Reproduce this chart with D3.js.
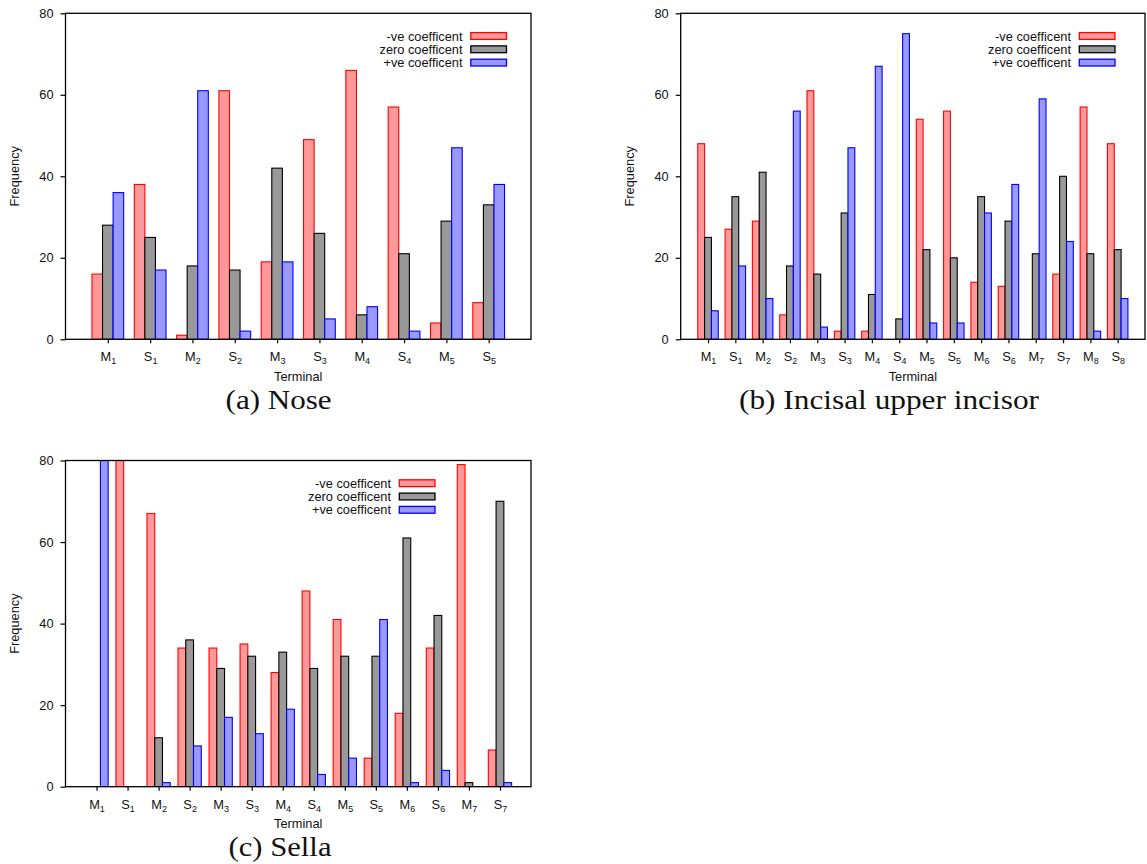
<!DOCTYPE html>
<html>
<head>
<meta charset="utf-8">
<script src="https://cdn.jsdelivr.net/npm/d3@7"></script>
<style>
  html, body { margin: 0; padding: 0; background: #fff; }
  svg { display: block; }
  text { font-family: "Liberation Sans", Arial, sans-serif; fill: #111; }
  .caption { font-family: "Liberation Serif", "Times New Roman", serif; }
</style>
</head>
<body>
<svg id="fig" width="1147" height="864"></svg>
<script>
// Series names (legend order) and y-axis ticks shared by all panels
const seriesNames = ["-ve coefficent", "zero coefficent", "+ve coefficent"];
const yTicks = [0, 20, 40, 60, 80];

// (a) Nose
const noseTerminals = ["M1", "S1", "M2", "S2", "M3", "S3", "M4", "S4", "M5", "S5"];
const noseNegative = [16, 38, 1, 61, 19, 49, 66, 57, 4, 9];
const noseZero     = [28, 25, 18, 17, 42, 26, 6, 21, 29, 33];
const nosePositive = [36, 17, 61, 2, 19, 5, 8, 2, 47, 38];

// (b) Incisal upper incisor
const incisorTerminals = ["M1", "S1", "M2", "S2", "M3", "S3", "M4", "S4",
                          "M5", "S5", "M6", "S6", "M7", "S7", "M8", "S8"];
const incisorNegative = [48, 27, 29, 6, 61, 2, 2, 0, 54, 56, 14, 13, 0, 16, 57, 48];
const incisorZero     = [25, 35, 41, 18, 16, 31, 11, 5, 22, 20, 35, 29, 21, 40, 21, 22];
const incisorPositive = [7, 18, 10, 56, 3, 47, 67, 75, 4, 4, 31, 38, 59, 24, 2, 10];

// (c) Sella
const sellaTerminals = ["M1", "S1", "M2", "S2", "M3", "S3", "M4", "S4",
                        "M5", "S5", "M6", "S6", "M7", "S7"];
const sellaNegative = [0, 80, 67, 34, 34, 35, 28, 48, 41, 7, 18, 34, 79, 9];
const sellaZero     = [0, 0, 12, 36, 29, 32, 33, 29, 32, 32, 61, 42, 1, 70];
const sellaPositive = [80, 0, 1, 10, 17, 13, 19, 3, 7, 41, 1, 4, 0, 1];

const seriesStyle = [
  { fill: "#ff9999", stroke: "#ff0000" },
  { fill: "#999999", stroke: "#000000" },
  { fill: "#9999ff", stroke: "#0000ff" }
];

const svg = d3.select("#fig");

function drawPanel(p, idx) {
  const g = svg.append("g");
  const n = p.terminals.length;
  const x = d3.scaleLinear().domain([0, n + 1]).range([p.left, p.right]);
  const y = d3.scaleLinear().domain([0, 80]).range([p.bottom, p.top]);
  const unit = x(1) - x(0);
  const barW = 0.25 * unit;

  const clipId = "clip" + idx;
  g.append("clipPath").attr("id", clipId)
    .append("rect")
    .attr("x", p.left).attr("y", p.top - 1)
    .attr("width", p.right - p.left).attr("height", p.bottom - p.top + 1);

  // bars: three per terminal, the middle one centred on the tick
  const bars = g.append("g").attr("clip-path", `url(#${clipId})`);
  p.series.forEach((vals, k) => {
    bars.selectAll(null)
      .data(vals)
      .join("rect")
      .attr("x", (d, i) => x(i + 1) + (k - 1.5) * barW)
      .attr("y", d => y(d))
      .attr("width", barW)
      .attr("height", d => y(0) - y(d))
      .attr("fill", seriesStyle[k].fill)
      .attr("stroke", seriesStyle[k].stroke)
      .attr("stroke-width", 1.1);
  });

  // y axis
  const yAxis = g.append("g")
    .attr("transform", `translate(${p.left},0)`)
    .call(d3.axisLeft(y).tickValues(yTicks).tickSize(5).tickPadding(7).tickSizeOuter(0));
  yAxis.select(".domain").remove();
  yAxis.selectAll("line").attr("stroke", "#000").attr("stroke-width", 1.2);
  yAxis.selectAll("text").style("font-size", "12.8px")
    .style("font-family", "'Liberation Sans', Arial, sans-serif").attr("fill", "#111");

  // x axis with subscripted terminal labels
  const xAxis = g.append("g")
    .attr("transform", `translate(0,${p.bottom})`)
    .call(d3.axisBottom(x).tickValues(d3.range(1, n + 1)).tickSize(4)
      .tickFormat(() => "").tickSizeOuter(0));
  xAxis.select(".domain").remove();
  xAxis.selectAll("line").attr("stroke", "#000").attr("stroke-width", 1.2);
  xAxis.selectAll(".tick").each(function (d) {
    const lab = p.terminals[d - 1];
    const t = d3.select(this).append("text")
      .attr("y", 22.2).attr("text-anchor", "middle")
      .style("font-size", "12.8px").attr("fill", "#111");
    t.append("tspan").text(lab[0]);
    t.append("tspan").text(lab.slice(1))
      .style("font-size", "9px").attr("dy", 3);
  });

  // frame
  g.append("rect")
    .attr("x", p.left).attr("y", p.top)
    .attr("width", p.right - p.left).attr("height", p.bottom - p.top)
    .attr("fill", "none").attr("stroke", "#000").attr("stroke-width", 1.3);

  // axis titles
  g.append("text")
    .attr("x", (p.left + p.right) / 2).attr("y", p.bottom + 41.7)
    .attr("text-anchor", "middle").style("font-size", "12.8px")
    .text("Terminal");
  g.append("text")
    .attr("transform", `translate(${p.left - 46.5},${(p.top + p.bottom) / 2}) rotate(-90)`)
    .attr("text-anchor", "middle").style("font-size", "12.8px")
    .text("Frequency");

  // legend
  const lg = g.append("g");
  seriesNames.forEach((name, k) => {
    const cy = p.top + 22.7 + k * 13.3;
    lg.append("text")
      .attr("x", p.legendRight - 44).attr("y", cy).attr("dy", "0.36em")
      .attr("text-anchor", "end").style("font-size", "12.8px")
      .text(name);
    lg.append("rect")
      .attr("x", p.legendRight - 35.7).attr("y", cy - 3.4)
      .attr("width", 35.7).attr("height", 6.8)
      .attr("fill", seriesStyle[k].fill)
      .attr("stroke", seriesStyle[k].stroke).attr("stroke-width", 1.3);
  });

  // caption, stretched to the width of the typeset subfigure caption
  g.append("text").attr("class", "caption")
    .attr("x", p.captionX).attr("y", p.captionY)
    .attr("text-anchor", "middle").style("font-size", "28px")
    .style("font-family", "'Liberation Serif', 'Times New Roman', serif")
    .attr("textLength", p.captionWidth).attr("lengthAdjust", "spacingAndGlyphs")
    .text(p.caption);
}

const panels = [
  { terminals: noseTerminals, series: [noseNegative, noseZero, nosePositive],
    left: 65.5, right: 531, top: 13.3, bottom: 339.3,
    legendRight: 506.5, caption: "(a) Nose", captionX: 278.6, captionY: 409, captionWidth: 106 },
  { terminals: incisorTerminals, series: [incisorNegative, incisorZero, incisorPositive],
    left: 680.7, right: 1145, top: 13.3, bottom: 339.3,
    legendRight: 1115, caption: "(b) Incisal upper incisor", captionX: 889, captionY: 409, captionWidth: 300 },
  { terminals: sellaTerminals, series: [sellaNegative, sellaZero, sellaPositive],
    left: 65.5, right: 531, top: 460.5, bottom: 786.7,
    legendRight: 435, caption: "(c) Sella", captionX: 280, captionY: 856, captionWidth: 103 }
];

panels.forEach(drawPanel);
</script>
</body>
</html>
